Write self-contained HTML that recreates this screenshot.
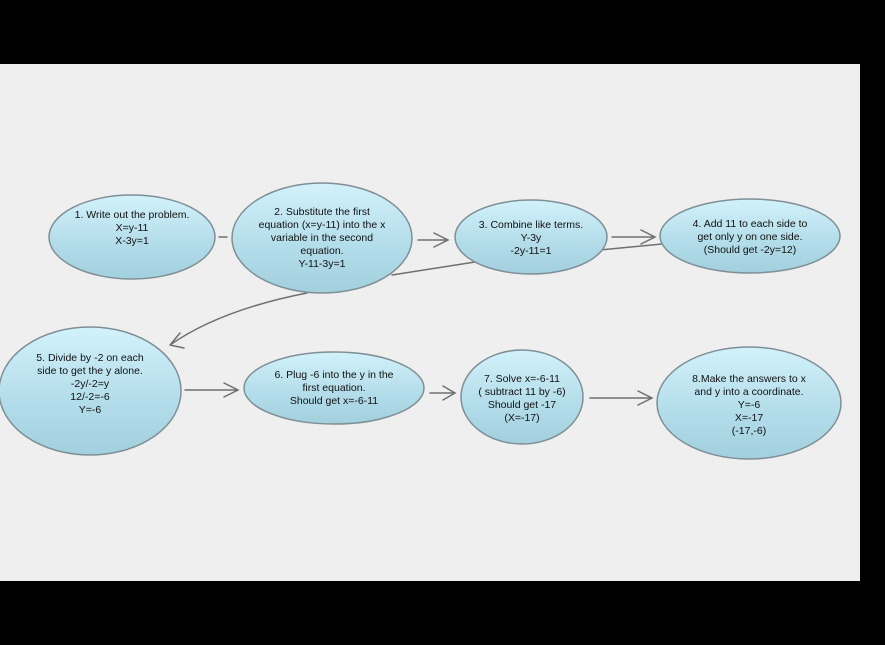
<!DOCTYPE html>
<html><head><meta charset="utf-8"><style>
html,body{margin:0;padding:0;background:#000;}
svg{display:block}
text{font-family:"Liberation Sans",Arial,sans-serif;font-size:10.5px;fill:#111;text-anchor:middle}
</style></head><body>
<svg width="885" height="645" viewBox="0 0 885 645">
<defs>
<linearGradient id="g" x1="0" y1="0" x2="0" y2="1">
<stop offset="0" stop-color="#d2f2fb"/><stop offset="0.6" stop-color="#b2dce9"/><stop offset="1" stop-color="#a3d0de"/>
</linearGradient>
</defs>
<rect x="0" y="0" width="885" height="645" fill="#000"/>
<rect x="0" y="64" width="860" height="517" fill="#efefef"/>
<g stroke="#707070" stroke-width="1.5" fill="none" stroke-linecap="round">
<path d="M219 237 L227 237"/>
<path d="M418 240 L448 240 M434 233 L448 240 L434 247"/>
<path d="M612 237 L655 237 M641 230 L655 237 L641 244"/>
<path d="M662 244 L475 262 L392 275"/>
<path d="M307 293 Q220 310 170 345 M170 345 L180 333 M170 345 L184 348"/>
<path d="M185 390 L238 390 M224 383 L238 390 L224 397"/>
<path d="M430 393 L455 393 M443 386 L455 393 L443 400"/>
<path d="M590 398 L652 398 M638 391 L652 398 L638 405"/>
</g>
<g fill="url(#g)" stroke="#7f8f96" stroke-width="1.5">
<ellipse cx="132" cy="237" rx="83" ry="42"/>
<ellipse cx="322" cy="238" rx="90" ry="55"/>
<ellipse cx="531" cy="237" rx="76" ry="37"/>
<ellipse cx="750" cy="236" rx="90" ry="37"/>
<ellipse cx="90" cy="391" rx="91" ry="64"/>
<ellipse cx="334" cy="388" rx="90" ry="36"/>
<ellipse cx="522" cy="397" rx="61" ry="47"/>
<ellipse cx="749" cy="403" rx="92" ry="56"/>
</g>
<text x="132" y="218">1. Write out the problem.</text>
<text x="132" y="231">X=y-11</text>
<text x="132" y="244">X-3y=1</text>
<text x="322" y="215">2. Substitute the first</text>
<text x="322" y="228">equation (x=y-11) into the x</text>
<text x="322" y="241">variable in the second</text>
<text x="322" y="254">equation.</text>
<text x="322" y="267">Y-11-3y=1</text>
<text x="531" y="228">3. Combine like terms.</text>
<text x="531" y="241">Y-3y</text>
<text x="531" y="254">-2y-11=1</text>
<text x="750" y="227">4. Add 11 to each side to</text>
<text x="750" y="240">get only y on one side.</text>
<text x="750" y="253">(Should get -2y=12)</text>
<text x="90" y="361">5. Divide by -2 on each</text>
<text x="90" y="374">side to get the y alone.</text>
<text x="90" y="387">-2y/-2=y</text>
<text x="90" y="400">12/-2=-6</text>
<text x="90" y="413">Y=-6</text>
<text x="334" y="378">6. Plug -6 into the y in the</text>
<text x="334" y="391">first equation.</text>
<text x="334" y="404">Should get x=-6-11</text>
<text x="522" y="382">7. Solve x=-6-11</text>
<text x="522" y="395">( subtract 11 by -6)</text>
<text x="522" y="408">Should get -17</text>
<text x="522" y="421">(X=-17)</text>
<text x="749" y="382">8.Make the answers to x</text>
<text x="749" y="395">and y into a coordinate.</text>
<text x="749" y="408">Y=-6</text>
<text x="749" y="421">X=-17</text>
<text x="749" y="434">(-17,-6)</text>
</svg>
</body></html>
